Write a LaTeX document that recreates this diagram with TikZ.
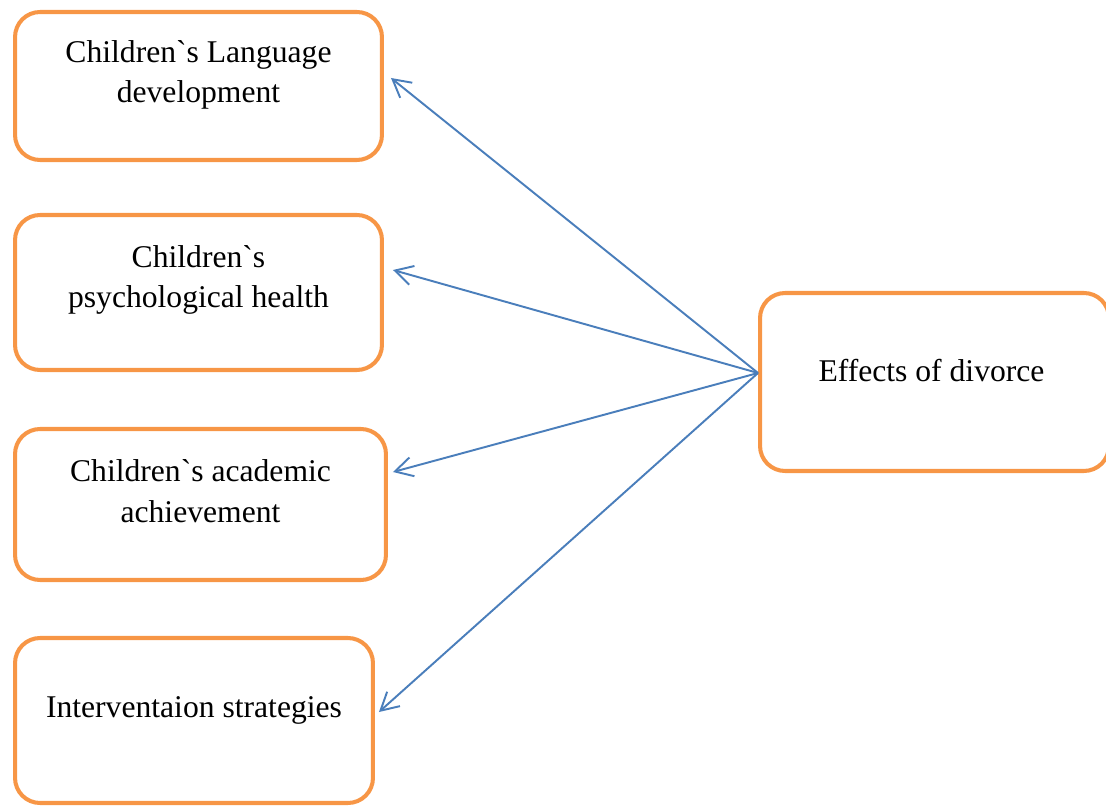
\documentclass[tikz,border=0pt]{standalone}
\usepackage{fontspec}
\setmainfont{Liberation Serif}[Ligatures=TeXOff]
\usetikzlibrary{arrows.meta}
\definecolor{boxorange}{HTML}{F79646}
\definecolor{linkblue}{HTML}{4A7EBB}

\begin{document}
\begin{tikzpicture}[x=0.02cm,y=-0.02cm,
  box/.style={draw=boxorange,line width=2.3pt,rounded corners=0.5cm,inner sep=0pt},
  txt/.style={align=center,inner sep=0pt,font=\fontsize{18}{23}\selectfont},
  link/.style={draw=linkblue,line width=1.1pt,-{Straight Barb[length=10pt,width=11pt]}}]
  \useasboundingbox (0,0) rectangle (1106,807);
  % boxes on the left
  \node[box,minimum width=7.34cm,minimum height=2.96cm] (lang) at (198.5,86) {};
  \node[box,minimum width=7.34cm,minimum height=3.1cm] (psych) at (198.5,292.5) {};
  \node[box,minimum width=7.42cm,minimum height=3.02cm] (acad) at (200.5,504.5) {};
  \node[box,minimum width=7.16cm,minimum height=3.3cm] (interv) at (194,720.5) {};
  % box on the right
  \node[box,minimum width=6.98cm,minimum height=3.56cm] (effects) at (934.5,382) {};
  \node[txt] (lang-t) at ([yshift=0.22cm]lang.center) {Children`s Language\\development};
  \node[txt] (psych-t) at ([yshift=0.25cm]psych.center) {Children`s\\psychological health};
  \node[txt] (acad-t) at ([yshift=0.27cm]acad.center) {Children`s academic\\achievement};
  \node[txt] (interv-t) at ([yshift=0.2cm]interv.center) {Interventaion strategies};
  \node[txt] (effects-t) at ([yshift=0.23cm,xshift=-0.06cm]effects.center) {Effects of divorce};
  \coordinate (src) at ([yshift=0.18cm]effects.west);
  \draw[link] (src) -- ([xshift=0.14cm,yshift=0.16cm]lang.east);
  \draw[link] (src) -- ([xshift=0.18cm,yshift=0.45cm]psych.east);
  \draw[link] (src) -- ([xshift=0.1cm,yshift=0.65cm]acad.east);
  \draw[link] (src) -- ([xshift=0.08cm,yshift=0.17cm]interv.east);
\end{tikzpicture}
\end{document}
